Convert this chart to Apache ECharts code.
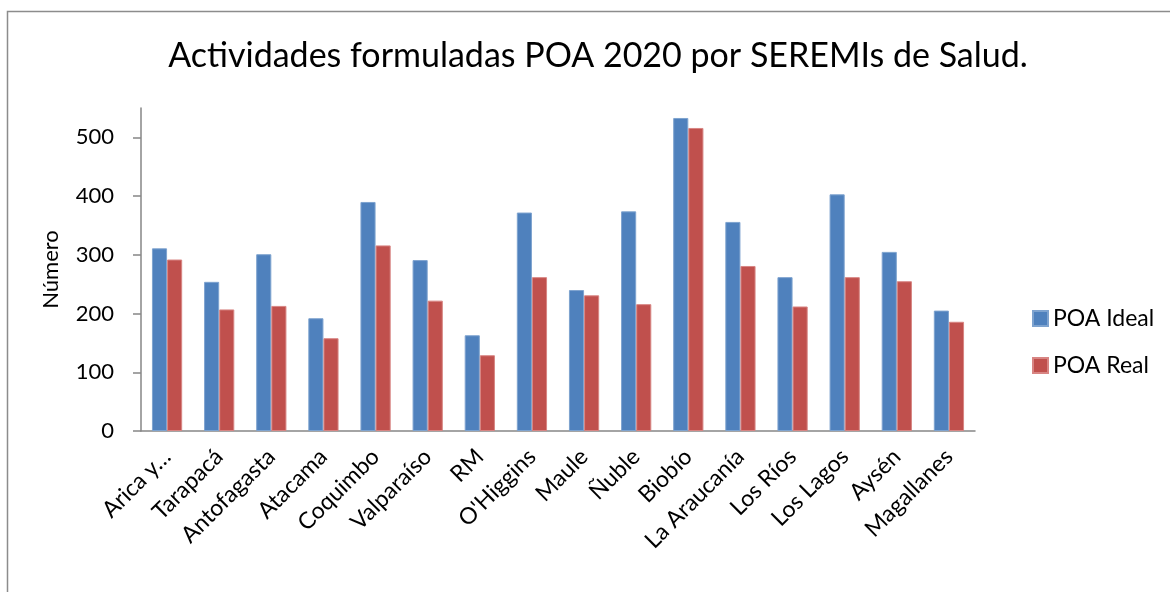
<!DOCTYPE html>
<html>
<head>
<meta charset="utf-8">
<script src="https://cdn.jsdelivr.net/npm/echarts@6/dist/echarts.min.js"></script>
<style>
    html, body { margin: 0; padding: 0; background: #fff; }
    #chart { width: 1170px; height: 592px; }
</style>
</head>
<body>
<div id="chart"></div>
<script>
    // datos
    let regiones = ['Arica y…', 'Tarapacá', 'Antofagasta', 'Atacama', 'Coquimbo', 'Valparaíso', 'RM',
        "O'Higgins", 'Maule', 'Ñuble', 'Biobío', 'La Araucanía', 'Los Ríos', 'Los Lagos', 'Aysén', 'Magallanes'];
    let poaIdeal = [311, 254, 301, 192, 390, 291, 163, 372, 240, 374, 533, 356, 262, 403, 305, 205];
    let poaReal = [292, 207, 213, 158, 316, 222, 129, 262, 231, 216, 516, 281, 212, 262, 255, 186];
    let yTicks = [0, 100, 200, 300, 400, 500];

    let font = 'Lato';
    let myChart = echarts.init(document.getElementById('chart'));
    let option = {
        backgroundColor: '#fff',
        animation: false,
        title: {
            text: 'Actividades formuladas POA 2020 por SEREMIs de Salud.',
            left: 593,
            textAlign: 'center',
            top: 34,
            textStyle: { fontFamily: font, fontSize: 34, fontWeight: 'normal', color: '#000' }
        },
        graphic: [{
            type: 'rect',
            shape: { x: 7.5, y: 11.5, width: 1300, height: 700 },
            style: { fill: 'none', stroke: '#8c8c8c', lineWidth: 1.5 },
            silent: true
        }],
        legend: {
            data: ['POA Ideal', 'POA Real'],
            orient: 'vertical',
            left: 1027,
            top: 302,
            itemWidth: 15,
            itemHeight: 15,
            itemGap: 24,
            icon: 'rect',
            textStyle: { fontFamily: font, fontSize: 23, color: '#000' }
        },
        grid: { left: 141, right: 195, top: 108, bottom: 161 },
        xAxis: {
            type: 'category',
            data: regiones,
            axisLine: { lineStyle: { color: '#868686', width: 1.5 } },
            axisTick: { length: 7, lineStyle: { color: '#868686', width: 1.5 } },
            axisLabel: {
                rotate: 45, interval: 0, margin: 22,
                fontFamily: font, fontSize: 23, color: '#000'
            }
        },
        yAxis: {
            type: 'value',
            min: 0, max: 550, interval: 50,
            name: 'Número',
            nameLocation: 'middle',
            nameRotate: 90,
            nameGap: 79,
            nameTextStyle: { fontFamily: font, fontSize: 22, color: '#000' },
            axisLine: { show: true, lineStyle: { color: '#868686', width: 1.5 } },
            axisTick: { show: true, length: 8, customValues: yTicks, lineStyle: { color: '#868686', width: 1.5 } },
            axisLabel: { customValues: yTicks, margin: 27, fontFamily: font, fontSize: 22, color: '#000' },
            splitLine: { show: false }
        },
        series: [{
            name: 'POA Ideal',
            type: 'bar',
            data: poaIdeal,
            barGap: '0%',
            barCategoryGap: '42%',
            itemStyle: { color: '#4f81bd', borderColor: '#7ea3cf', borderWidth: 1 }
        }, {
            name: 'POA Real',
            type: 'bar',
            data: poaReal,
            itemStyle: { color: '#c0504d', borderColor: '#d88583', borderWidth: 1 }
        }]
    };
    myChart.setOption(option);
</script>
</body>
</html>
